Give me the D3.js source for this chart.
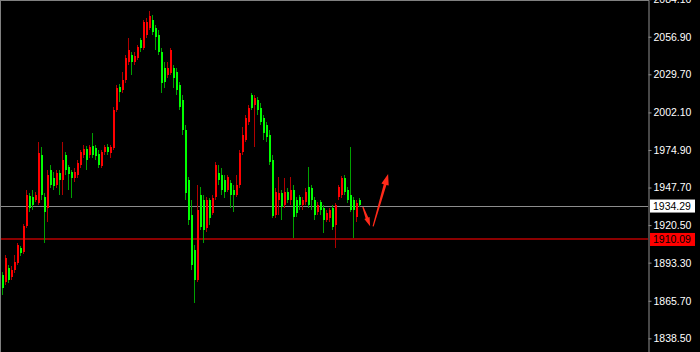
<!DOCTYPE html>
<html>
<head>
<meta charset="utf-8">
<script src="https://cdn.jsdelivr.net/npm/d3@7"></script>
<style>
  body { margin: 0; background: #000; }
  svg { display: block; }
</style>
</head>
<body>
<script>
// chart size
var width = 700;
var height = 352;
var axisX = 648; // x of the price scale line

// candles (price)
var opens = [1884.4,1879.3,1889.5,1883.0,1888.0,1893.1,1903.9,1901.1,1919.9,1941.6,
  1940.9,1938.7,1936.5,1971.3,1940.9,1932.9,1960.4,1954.6,1949.6,1958.2,
  1953.2,1971.3,1962.6,1959.0,1954.6,1956.8,1964.0,1971.3,1975.6,1971.3,
  1977.8,1976.3,1972.0,1963.3,1973.5,1977.1,1972.7,1976.3,2003.9,2020.5,
  2018.3,2025.6,2038.6,2043.7,2038.6,2041.5,2054.5,2048.7,2058.2,2063.2,
  2069.0,2063.2,2058.2,2045.9,2034.3,2029.2,2030.6,2034.3,2031.4,2022.0,
  2011.1,1989.4,1953.2,1927.8,1902.5,1880.8,1942.3,1938.7,1918.4,1938.7,
  1929.3,1940.9,1958.2,1956.8,1953.2,1945.9,1951.0,1945.9,1942.3,1949.6,
  1973.5,1982.1,1995.2,2014.7,2007.5,2011.1,2005.3,1998.1,1993.0,1985.8,
  1967.7,1927.8,1938.7,1943.8,1935.1,1944.5,1938.7,1945.9,1938.7,1940.9,
  1935.1,1937.3,1948.1,1947.4,1938.7,1930.0,1937.3,1932.9,1924.2,1925.7,
  1932.9,1920.6,1940.9,1942.3,1954.6,1945.9,1942.3,1938.7,1926.4,1938.7];
var highs = [1886.6,1898.9,1891.6,1890.9,1898.9,1907.6,1905.4,1921.3,1945.9,1943.8,
  1945.9,1944.5,1980.7,1977.1,1943.8,1960.4,1964.0,1959.0,1960.4,1960.4,
  1980.7,1973.5,1964.0,1960.4,1961.9,1967.7,1974.9,1978.5,1977.8,1978.5,
  1987.2,1978.5,1974.9,1974.9,1978.5,1979.2,1978.5,2006.0,2022.0,2022.7,
  2031.4,2043.7,2056.0,2045.9,2045.9,2050.9,2056.0,2069.0,2070.5,2075.5,
  2072.6,2065.4,2061.8,2048.7,2038.6,2038.6,2048.7,2036.4,2034.3,2024.1,
  2014.7,1993.0,1955.4,1938.7,1906.1,1949.6,1948.1,1942.3,1940.9,1940.1,
  1942.3,1966.2,1964.0,1961.9,1956.8,1956.8,1953.2,1949.6,1956.8,1974.9,
  1991.6,2000.2,2007.5,2016.2,2014.7,2013.3,2008.9,2000.2,1995.2,1989.4,
  1971.3,1947.4,1955.4,1945.9,1954.6,1947.4,1955.4,1949.6,1940.9,1942.3,
  1940.9,1947.4,1962.6,1949.6,1940.9,1937.3,1938.7,1935.1,1931.5,1932.9,
  1935.1,1936.5,1949.6,1956.1,1956.8,1948.1,1977.1,1940.9,1938.7,1940.1];
var lows = [1869.9,1877.2,1878.6,1880.8,1885.8,1891.6,1898.2,1899.6,1918.4,1930.0,
  1931.5,1937.3,1935.1,1938.7,1907.6,1922.8,1947.4,1945.9,1947.4,1942.3,
  1942.3,1956.8,1945.9,1940.1,1951.7,1954.6,1961.9,1969.1,1960.4,1969.1,
  1969.1,1967.7,1961.9,1961.9,1971.3,1971.3,1969.1,1974.9,2002.4,2009.7,
  2016.2,2023.4,2036.4,2029.2,2036.4,2040.1,2045.9,2047.3,2056.0,2061.8,
  2058.2,2047.3,2043.7,2016.2,2019.8,2027.0,2029.2,2019.8,2014.7,2003.9,
  1985.8,1938.7,1920.6,1888.0,1864.1,1879.3,1917.0,1907.6,1915.5,1920.6,
  1927.8,1938.7,1949.6,1942.3,1940.1,1944.5,1932.9,1930.0,1940.9,1947.4,
  1971.3,1980.7,1993.0,2003.9,1977.1,2000.2,1993.0,1982.1,1980.7,1964.0,
  1925.7,1925.7,1927.8,1924.2,1932.9,1936.5,1935.1,1911.2,1926.4,1931.5,
  1931.5,1935.1,1932.9,1931.5,1924.2,1927.8,1927.8,1914.8,1922.8,1922.8,
  1917.0,1903.9,1938.7,1940.1,1942.3,1936.5,1930.0,1911.2,1922.8,1933.6];
var closes = [1875.0,1896.7,1880.8,1888.0,1893.8,1906.1,1900.3,1919.9,1942.3,1932.9,
  1935.1,1942.3,1972.7,1942.3,1930.0,1956.8,1949.6,1948.8,1958.2,1953.2,
  1967.7,1960.4,1957.5,1954.6,1959.0,1965.5,1973.5,1975.6,1967.7,1977.1,
  1971.3,1970.6,1964.0,1973.5,1977.1,1973.5,1977.1,2003.9,2019.8,2016.9,
  2025.6,2041.5,2047.3,2038.6,2043.0,2049.5,2048.7,2067.6,2067.6,2071.9,
  2060.3,2056.7,2045.9,2023.4,2024.1,2034.3,2047.3,2027.0,2018.3,2006.0,
  1989.4,1943.8,1924.2,1891.6,1880.8,1931.5,1919.2,1917.0,1938.7,1925.7,
  1940.1,1964.0,1953.2,1945.9,1944.5,1955.4,1942.3,1942.3,1949.6,1972.7,
  1985.8,1998.1,2005.3,2005.3,2012.5,2003.9,1995.2,1987.2,1984.3,1966.2,
  1927.1,1944.5,1943.8,1933.6,1944.5,1938.7,1945.9,1926.4,1929.3,1935.1,
  1938.7,1944.5,1935.1,1938.7,1927.8,1935.1,1931.5,1924.2,1929.3,1931.5,
  1919.2,1935.1,1948.1,1954.6,1944.5,1938.7,1931.5,1931.5,1936.5,1935.1];

// price scale labels
var tickValues = [2084.10, 2056.90, 2029.70, 2002.10, 1974.90, 1947.70, 1920.50, 1893.30, 1865.70, 1838.50];

// horizontal lines (bid and a level)
var linePrices = [1934.29, 1910.09];
var lineColors = ["#8c8c8c", "#8b0000"];
var lineWidths = [1, 2];
var labelFill = ["#ffffff", "#ff0000"];

// drawn arrows, in bar index / price
var arrowFrom = [[120.3, 1933.6], [123.7, 1919.6]];
var arrowTo = [[122.7, 1919.6], [128.7, 1957.5]];
//////////////////////////////

var data = opens.map(function (o, i) {
  return { i: i, o: o, h: highs[i], l: lows[i], c: closes[i] };
});

var x = d3.scaleLinear().domain([0, data.length - 1]).range([2, 359]);
var y = d3.scaleLinear().domain([1828.6, 2083.5]).range([height, 0]);

var svg = d3.select("body")
  .append("svg")
  .attr("width", width)
  .attr("height", height)
  .style("background", "#000");

// frame
svg.append("line")
  .attr("x1", 0).attr("x2", width)
  .attr("y1", 0.5).attr("y2", 0.5)
  .attr("stroke", "#808080");
svg.append("line")
  .attr("x1", 0.5).attr("x2", 0.5)
  .attr("y1", 0).attr("y2", height)
  .attr("stroke", "#808080");

// horizontal price lines
linePrices.forEach(function (p, k) {
  svg.append("line")
    .attr("x1", 1).attr("x2", axisX)
    .attr("y1", Math.round(y(p)) + (lineWidths[k] % 2 ? 0.5 : 0))
    .attr("y2", Math.round(y(p)) + (lineWidths[k] % 2 ? 0.5 : 0))
    .attr("stroke", lineColors[k])
    .attr("stroke-width", lineWidths[k]);
});

var candles = svg.append("g").attr("shape-rendering", "crispEdges");

candles.selectAll("line.wick")
  .data(data)
  .enter()
  .append("line")
  .attr("class", "wick")
  .attr("x1", function (d) { return Math.round(x(d.i)) + 0.5; })
  .attr("x2", function (d) { return Math.round(x(d.i)) + 0.5; })
  .attr("y1", function (d) { return y(d.h); })
  .attr("y2", function (d) { return y(d.l); })
  .attr("stroke", function (d) { return d.c >= d.o ? "#b00000" : "#00a000"; })
  .attr("stroke-width", 1);

candles.selectAll("rect.body")
  .data(data)
  .enter()
  .append("rect")
  .attr("class", "body")
  .attr("x", function (d) { return Math.round(x(d.i)); })
  .attr("width", 2)
  .attr("y", function (d) { return y(Math.max(d.o, d.c)); })
  .attr("height", function (d) { return Math.max(1, Math.abs(y(d.o) - y(d.c))); })
  .attr("fill", function (d) { return d.c >= d.o ? "#ff0000" : "#00ff00"; });

// arrows
function arrowPoints(a, b, headLen, headHalf) {
  var x0 = x(a[0]), y0 = y(a[1]), x1 = x(b[0]), y1 = y(b[1]);
  var len = Math.sqrt((x1 - x0) * (x1 - x0) + (y1 - y0) * (y1 - y0));
  var ux = (x1 - x0) / len, uy = (y1 - y0) / len;
  var nx = -uy, ny = ux;
  var bx = x1 - ux * headLen, by = y1 - uy * headLen;
  return [
    [x0 + nx * 0.6, y0 + ny * 0.6],
    [bx + nx * 1.4, by + ny * 1.4],
    [bx + nx * headHalf, by + ny * headHalf],
    [x1, y1],
    [bx - nx * headHalf, by - ny * headHalf],
    [bx - nx * 1.4, by - ny * 1.4],
    [x0 - nx * 0.6, y0 - ny * 0.6]
  ];
}

var arrowLine = d3.line().curve(d3.curveLinearClosed);
arrowFrom.forEach(function (a, k) {
  svg.append("path")
    .attr("d", arrowLine(arrowPoints(a, arrowTo[k], k == 0 ? 9 : 11, k == 0 ? 2.8 : 3.8)))
    .attr("fill", "#ff2a1a");
});

// price scale
svg.append("rect")
  .attr("x", axisX + 1).attr("y", 0)
  .attr("width", width - axisX).attr("height", height)
  .attr("fill", "#000");

var axis = svg.append("g")
  .attr("transform", "translate(" + (axisX + 0.5) + ",0)")
  .call(d3.axisRight(y)
    .tickValues(tickValues)
    .tickFormat(d3.format(".2f"))
    .tickSize(3)
    .tickSizeOuter(0)
    .tickPadding(2));

axis.select(".domain").attr("stroke", "#909090");
axis.selectAll(".tick line").attr("stroke", "#909090");
axis.selectAll(".tick text")
  .attr("fill", "#ffffff")
  .attr("font-family", "Liberation Sans, Arial, sans-serif")
  .attr("font-size", "10.5px");

// labels of the horizontal lines
linePrices.forEach(function (p, k) {
  svg.append("rect")
    .attr("x", axisX + 2)
    .attr("y", y(p) - 6.5)
    .attr("width", 45)
    .attr("height", 13)
    .attr("fill", labelFill[k]);
  svg.append("text")
    .text(d3.format(".2f")(p))
    .attr("x", axisX + 5)
    .attr("y", y(p))
    .attr("dy", "0.36em")
    .attr("font-family", "Liberation Sans, Arial, sans-serif")
    .attr("font-size", "10.5px")
    .attr("fill", "#000");
});
</script>
</body>
</html>
